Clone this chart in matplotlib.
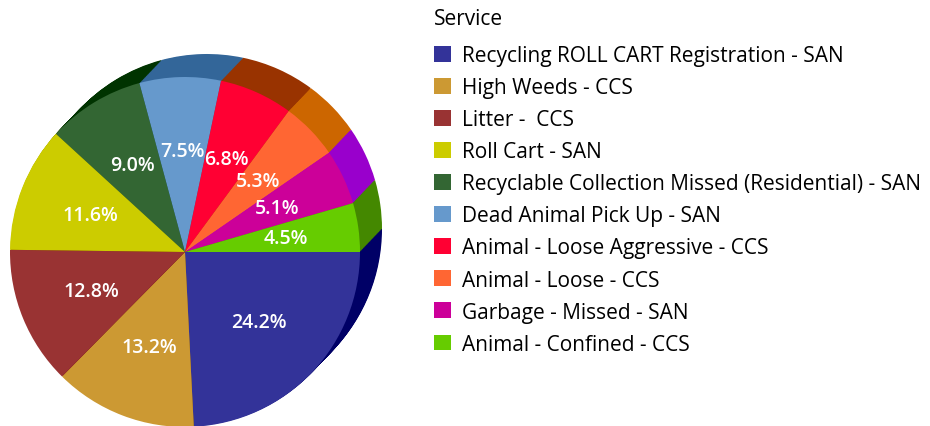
import matplotlib.pyplot as plt

# service requests share, clockwise from 3 o'clock
services = [
    "Recycling ROLL CART Registration - SAN",
    "High Weeds - CCS",
    "Litter -  CCS",
    "Roll Cart - SAN",
    "Recyclable Collection Missed (Residential) - SAN",
    "Dead Animal Pick Up - SAN",
    "Animal - Loose Aggressive - CCS",
    "Animal - Loose - CCS",
    "Garbage - Missed - SAN",
    "Animal - Confined - CCS",
]
shares = [24.2, 13.2, 12.8, 11.6, 9.0, 7.5, 6.8, 5.3, 5.1, 4.5]

top_colors = ["#333399", "#CC9933", "#993333", "#CCCC00", "#336633",
              "#6699CC", "#FF0033", "#FF6633", "#CC0099", "#66CC00"]
side_colors = ["#000066", "#996600", "#660000", "#999900", "#003300",
               "#336699", "#993300", "#CC6600", "#9900CC", "#448800"]

plt.rcParams["font.family"] = ["Open Sans", "DejaVu Sans"]

W, H = 930, 427
fig = plt.figure(figsize=(W / 100, H / 100), dpi=100)
ax = fig.add_axes([0, 0, 1, 1])

R = 175.0          # pie radius in px
cx, cy = 185, 253  # pie centre in px (from top)

# extruded side: stack offset copies of the pie, back to front
dx, dy = 22 / R, 23 / R
steps = 30
for i in range(steps, 0, -1):
    t = i / steps
    ax.pie(shares, colors=side_colors, startangle=0, counterclock=False,
           center=(dx * t, dy * t), radius=1, frame=True,
           wedgeprops=dict(linewidth=0, antialiased=True))

wedges, _, autotexts = ax.pie(
    shares, colors=top_colors, startangle=0, counterclock=False,
    center=(0, 0), radius=1, frame=True,
    autopct="%.1f%%", pctdistance=0.58,
    wedgeprops=dict(linewidth=0),
    textprops=dict(color="white", fontsize=14, fontweight="semibold"),
)

ax.set_xlim(-cx / R, (W - cx) / R)
ax.set_ylim((cy - H) / R, cy / R)
ax.set_aspect("equal")
ax.axis("off")

leg = ax.legend(wedges, services, title="Service", loc="upper left",
                bbox_to_anchor=(426 / W, 1 - 1 / H), bbox_transform=fig.transFigure,
                frameon=False, title_fontsize=15,
                prop=dict(size=15, weight=500),
                handlelength=0.78, handleheight=0.78, handletextpad=0.55,
                labelspacing=0.53, borderaxespad=0)
leg._legend_box.align = "left"
leg._legend_box.sep = 0.53 * 15 + 3.5  # a bit more room under the title

fig.savefig("out.png", dpi=100)
